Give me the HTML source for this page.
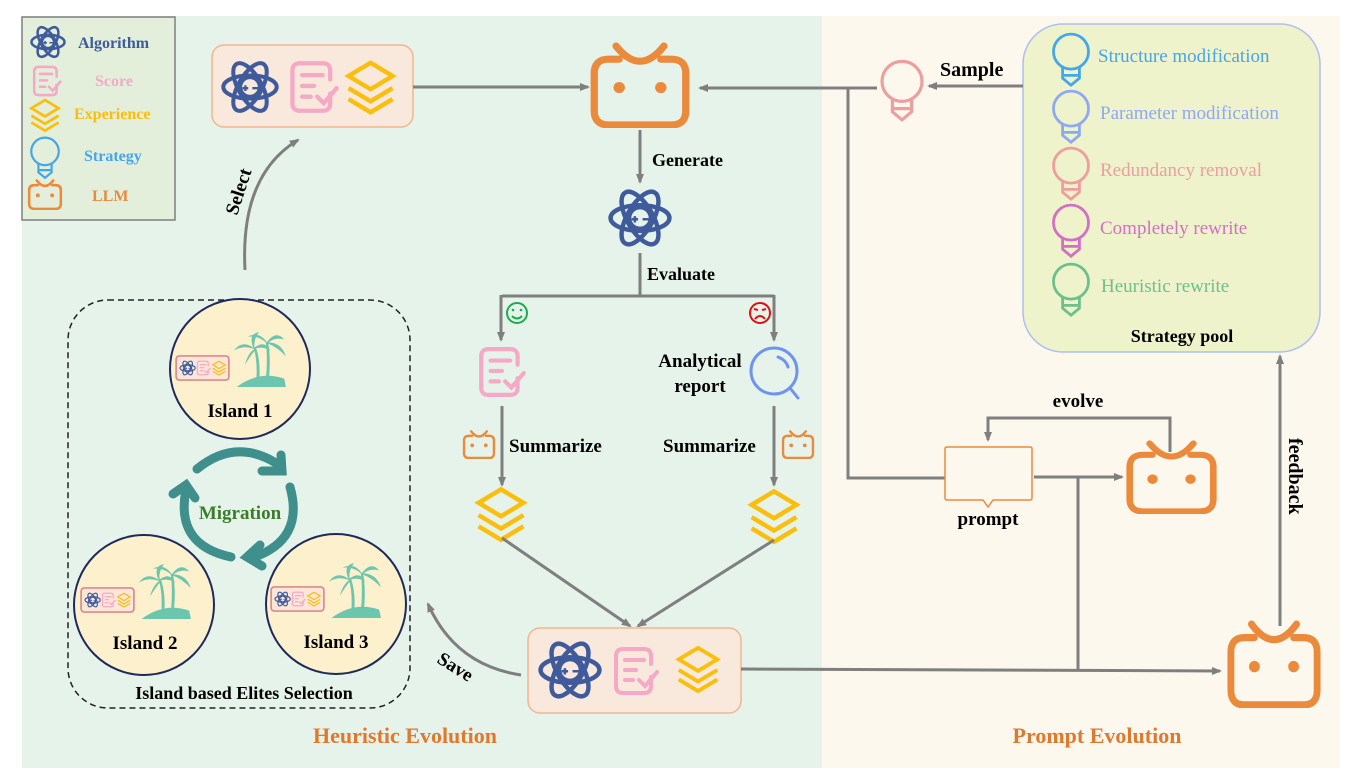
<!DOCTYPE html>
<html><head><meta charset="utf-8"><style>
html,body{margin:0;padding:0;background:#fff;}
svg{display:block;}
text{font-family:"Liberation Serif","DejaVu Serif",serif;}
.b{font-weight:bold;}
</style></head><body>
<svg width="1359" height="781" viewBox="0 0 1359 781" xmlns="http://www.w3.org/2000/svg" font-family="Liberation Serif, serif">
<defs>
<marker id="ar" markerWidth="10" markerHeight="10" refX="8" refY="5" orient="auto" markerUnits="userSpaceOnUse"><path d="M0,1 L10,5 L0,9 Z" fill="#7f7f7f"/></marker>
<symbol id="llm" viewBox="0 0 100 85" preserveAspectRatio="none"><g fill="none" stroke="#ec8a3c" stroke-width="7" stroke-linecap="round"><path d="M30 17 H20 Q6 17 6 31 V68 Q6 82 20 82 H80 Q94 82 94 68 V31 Q94 17 80 17 H70"/><path d="M27 4 Q50 34 73 4"/></g><circle cx="30" cy="45" r="5.5" fill="#ec8a3c"/><circle cx="70" cy="45" r="5.5" fill="#ec8a3c"/></symbol>
<symbol id="atom" viewBox="0 0 100 100"><g fill="none" stroke="#3f5b9c" stroke-width="7"><ellipse cx="50" cy="50" rx="46" ry="20"/><ellipse cx="50" cy="50" rx="46" ry="20" transform="rotate(60 50 50)"/><ellipse cx="50" cy="50" rx="46" ry="20" transform="rotate(-60 50 50)"/><circle cx="50" cy="50" r="17"/></g><path d="M37 52h10M42 47v10M54 52h10" stroke="#3f5b9c" stroke-width="4"/></symbol>
<symbol id="score" viewBox="0 0 100 100"><g fill="none" stroke="#f5a9c6" stroke-width="8" stroke-linecap="round"><path d="M80 62 V80 Q80 94 66 94 H24 Q10 94 10 80 V20 Q10 6 24 6 H66 Q80 6 80 20 V36"/><path d="M28 28h38M28 48h22M28 68h16"/><path d="M56 68 L68 80 L92 52"/></g></symbol>
<symbol id="exp" viewBox="0 0 100 100"><g fill="none" stroke="#fbbe0c" stroke-width="8"><path d="M50 6 L90 30 L50 54 L10 30 Z"/><path d="M10 52 L50 76 L90 52"/><path d="M10 72 L50 96 L90 72"/></g></symbol>
<symbol id="bulb" viewBox="0 0 60 80"><g fill="none" stroke="currentColor" stroke-width="4"><circle cx="30" cy="28" r="25"/><path d="M18 50 V66 L30 76 L42 66 V50 M18 62 H42"/></g></symbol>
<symbol id="trio" viewBox="0 0 100 50"><rect x="2" y="3" width="96" height="44" rx="6" fill="#fbe6d9" stroke="#d98a8a" stroke-width="3"/><use href="#atom" x="8" y="9" width="30" height="32"/><use href="#score" x="38" y="10" width="28" height="30"/><use href="#exp" x="66" y="9" width="28" height="32"/></symbol>
<symbol id="palm" viewBox="0 0 100 100"><g fill="#6cc6ad"><path d="M10 100 Q50 70 95 85 L98 100Z"/><path d="M45 95 Q48 50 40 30 L44 28 Q54 55 50 95Z"/><path d="M62 92 Q66 45 62 20 L66 19 Q72 50 67 92Z"/><path d="M40 30 Q20 15 5 35 Q22 25 40 32Z"/><path d="M40 30 Q30 5 50 2 Q40 15 42 30Z"/><path d="M42 30 Q60 15 70 35 Q56 26 42 32Z"/><path d="M64 20 Q50 0 30 10 Q50 8 64 22Z"/><path d="M64 20 Q80 -2 95 15 Q78 10 65 22Z"/><path d="M65 20 Q90 20 98 45 Q82 28 65 22Z"/><path d="M42 32 Q30 40 25 60 Q36 42 44 33Z"/></g></symbol>
</defs>

<rect x="22" y="16" width="800" height="752" fill="#e6f3ea"/>
<rect x="822" y="16" width="518" height="752" fill="#fdf8ee"/>

<!-- legend -->
<rect x="22" y="17" width="153" height="203" fill="#e3efdb" stroke="#7f7f7f" stroke-width="1.5"/>
<use href="#atom" x="30" y="22" width="36" height="40"/>
<text x="78" y="48" class="b" fill="#3f5b9c" font-size="16">Algorithm</text>
<use href="#score" x="31" y="64" width="32" height="34"/>
<text x="95" y="86" class="b" fill="#f5a9c6" font-size="16">Score</text>
<use href="#exp" x="28" y="97" width="34" height="36"/>
<text x="74" y="119" class="b" fill="#fbbe0c" font-size="16">Experience</text>
<use href="#bulb" x="28" y="136" width="34" height="44" style="color:#45a6e8"/>
<text x="84" y="161" class="b" fill="#45a6e8" font-size="16">Strategy</text>
<use href="#llm" x="27" y="179" width="36" height="31"/>
<text x="92" y="201" class="b" fill="#ec8a3c" font-size="16">LLM</text>

<!-- top box -->
<rect x="212" y="45" width="201" height="82" rx="12" fill="#f9e9dc" stroke="#f0b78e" stroke-width="1.5"/>
<use href="#atom" x="221" y="57" width="58" height="60"/>
<use href="#score" x="287" y="58" width="54" height="58"/>
<use href="#exp" x="343" y="57" width="55" height="60"/>
<line x1="413" y1="87" x2="588" y2="87" stroke="#7f7f7f" stroke-width="3" marker-end="url(#ar)"/>

<use href="#llm" x="588" y="42" width="104" height="86"/>
<line x1="640" y1="130" x2="640" y2="182" stroke="#7f7f7f" stroke-width="3" marker-end="url(#ar)"/>
<text x="652" y="166" class="b" font-size="18">Generate</text>
<use href="#atom" x="608" y="186" width="64" height="64"/>
<line x1="640" y1="253" x2="640" y2="296" stroke="#7f7f7f" stroke-width="3"/>
<text x="647" y="280" class="b" font-size="18">Evaluate</text>
<path d="M502 296 H774" stroke="#7f7f7f" stroke-width="3" fill="none"/>
<line x1="501" y1="295" x2="501" y2="340" stroke="#7f7f7f" stroke-width="3" marker-end="url(#ar)"/>
<line x1="774" y1="295" x2="774" y2="340" stroke="#7f7f7f" stroke-width="3" marker-end="url(#ar)"/>
<g fill="none" stroke="#1aae4a" stroke-width="2"><circle cx="517" cy="313" r="10"/><path d="M512 316 Q517 321 522 316"/></g>
<circle cx="513" cy="310" r="1.3" fill="#1aae4a"/><circle cx="521" cy="310" r="1.3" fill="#1aae4a"/>
<g fill="none" stroke="#e01010" stroke-width="2"><circle cx="760" cy="313" r="10"/><path d="M755 319 Q760 313 765 319M754 309l4 1M766 309l-4 1"/></g>

<use href="#score" x="476" y="344" width="52" height="56"/>
<text x="700" y="367" class="b" font-size="19" text-anchor="middle">Analytical</text>
<text x="700" y="392" class="b" font-size="19" text-anchor="middle">report</text>
<g fill="none" stroke="#6f94f0" stroke-width="3"><circle cx="774" cy="371" r="23"/><path d="M790 388 L798 398" stroke-linecap="round"/><path d="M778 357 Q786 360 788 367" stroke-linecap="round"/></g>

<line x1="502" y1="406" x2="502" y2="485" stroke="#7f7f7f" stroke-width="3" marker-end="url(#ar)"/>
<line x1="774" y1="406" x2="774" y2="485" stroke="#7f7f7f" stroke-width="3" marker-end="url(#ar)"/>
<use href="#llm" x="462" y="430" width="34" height="29"/>
<use href="#llm" x="781" y="430" width="34" height="29"/>
<text x="509" y="452" class="b" font-size="19">Summarize</text>
<text x="663" y="452" class="b" font-size="19">Summarize</text>
<use href="#exp" x="473" y="485" width="56" height="58"/>
<use href="#exp" x="746" y="487" width="56" height="58"/>
<line x1="502" y1="538" x2="630" y2="626" stroke="#7f7f7f" stroke-width="3" marker-end="url(#ar)"/>
<line x1="774" y1="540" x2="638" y2="626" stroke="#7f7f7f" stroke-width="3" marker-end="url(#ar)"/>

<rect x="528" y="628" width="213" height="85" rx="12" fill="#f9e9dc" stroke="#f0b78e" stroke-width="1.5"/>
<use href="#atom" x="538" y="638" width="64" height="64"/>
<use href="#score" x="611" y="645" width="50" height="52"/>
<use href="#exp" x="674" y="641" width="48" height="56"/>
<line x1="741" y1="669" x2="1220" y2="671" stroke="#7f7f7f" stroke-width="3" marker-end="url(#ar)"/>
<line x1="1078" y1="477" x2="1078" y2="670" stroke="#7f7f7f" stroke-width="3"/>

<path d="M521 675 Q455 665 428 604" fill="none" stroke="#7f7f7f" stroke-width="3" marker-end="url(#ar)"/>
<text x="0" y="0" class="b" font-size="19" transform="translate(436 662) rotate(32)">Save</text>

<path d="M245 270 Q240 175 298 140" fill="none" stroke="#7f7f7f" stroke-width="3" marker-end="url(#ar)"/>
<text x="0" y="0" class="b" font-size="19" transform="translate(237 216) rotate(-72)">Select</text>

<rect x="68" y="300" width="342" height="408" rx="40" fill="none" stroke="#222" stroke-width="1.5" stroke-dasharray="6 4"/>
<g fill="#fdf0cd" stroke="#1f2a5a" stroke-width="2">
<circle cx="240" cy="369" r="70"/><circle cx="144" cy="605" r="70"/><circle cx="336" cy="604" r="70"/>
</g>
<use href="#trio" x="175" y="354" width="55" height="28"/>
<use href="#palm" x="231" y="328" width="56" height="62"/>
<text x="240" y="417" class="b" font-size="19" text-anchor="middle">Island 1</text>
<use href="#trio" x="80" y="586" width="55" height="28"/>
<use href="#palm" x="136" y="560" width="56" height="62"/>
<text x="145" y="649" class="b" font-size="19" text-anchor="middle">Island 2</text>
<use href="#trio" x="270" y="585" width="55" height="28"/>
<use href="#palm" x="326" y="559" width="56" height="62"/>
<text x="336" y="648" class="b" font-size="19" text-anchor="middle">Island 3</text>
<g fill="none" stroke="#3f8f8c" stroke-width="9" stroke-linecap="round">
<path d="M197 469 Q235 438 276 463"/>
<path d="M262 471 L282 471 L281 455"/>
<path d="M290 487 Q305 540 252 558"/>
<path d="M260 545 L247 557 L262 566"/>
<path d="M231 557 Q175 545 186 490"/>
<path d="M173 494 L186 485 L195 498"/>
</g>
<text x="240" y="519" class="b" fill="#3a7d2a" font-size="19" text-anchor="middle">Migration</text>
<text x="244" y="699" class="b" font-size="18" text-anchor="middle">Island based Elites Selection</text>

<text x="405" y="743" class="b" fill="#e0792e" font-size="22" text-anchor="middle">Heuristic Evolution</text>
<text x="1097" y="743" class="b" fill="#e0792e" font-size="22" text-anchor="middle">Prompt Evolution</text>

<rect x="1023" y="24" width="297" height="328" rx="40" fill="#eef3cc" stroke="#aebff0" stroke-width="1.5"/>
<use href="#bulb" x="1050" y="32" width="42" height="56" style="color:#45a6e8"/>
<text x="1098" y="62" font-size="19" fill="#45a6e8">Structure modification</text>
<use href="#bulb" x="1050" y="89" width="42" height="56" style="color:#8fa8f2"/>
<text x="1100" y="119" font-size="19" fill="#8fa8f2">Parameter modification</text>
<use href="#bulb" x="1050" y="146" width="42" height="56" style="color:#ee9e9e"/>
<text x="1100" y="176" font-size="19" fill="#ee9e9e">Redundancy removal</text>
<use href="#bulb" x="1050" y="203" width="42" height="56" style="color:#d36fc4"/>
<text x="1100" y="234" font-size="19" fill="#d36fc4">Completely rewrite</text>
<use href="#bulb" x="1050" y="262" width="42" height="56" style="color:#6cc08c"/>
<text x="1101" y="292" font-size="19" fill="#6cc08c">Heuristic rewrite</text>
<text x="1182" y="342" class="b" font-size="18" text-anchor="middle">Strategy pool</text>

<line x1="1023" y1="86" x2="929" y2="86" stroke="#7f7f7f" stroke-width="3" marker-end="url(#ar)"/>
<text x="940" y="76" class="b" font-size="20">Sample</text>
<use href="#bulb" x="878" y="59" width="48" height="64" style="color:#ee9e9e"/>
<line x1="877" y1="88" x2="700" y2="88" stroke="#7f7f7f" stroke-width="3" marker-end="url(#ar)"/>
<path d="M848 88 V478 H945" fill="none" stroke="#7f7f7f" stroke-width="3"/>

<path d="M947 447 H1030 Q1032 447 1032 449 V498 Q1032 500 1030 500 H993 L988 507 L983 500 H947 Q945 500 945 498 V449 Q945 447 947 447Z" fill="#fdf8ee" stroke="#ec8a3c" stroke-width="1.5"/>
<text x="988" y="525" class="b" font-size="19" text-anchor="middle">prompt</text>
<path d="M1170 452 V418 H988 V440" fill="none" stroke="#7f7f7f" stroke-width="3" marker-end="url(#ar)"/>
<text x="1078" y="407" class="b" font-size="19" text-anchor="middle">evolve</text>
<line x1="1034" y1="477" x2="1122" y2="477" stroke="#7f7f7f" stroke-width="3" marker-end="url(#ar)"/>
<use href="#llm" x="1124" y="440" width="95" height="74"/>

<use href="#llm" x="1225" y="620" width="98" height="88"/>
<line x1="1280" y1="626" x2="1280" y2="356" stroke="#7f7f7f" stroke-width="3" marker-end="url(#ar)"/>
<text x="0" y="0" class="b" font-size="20" transform="translate(1289 438) rotate(90)">feedback</text>
</svg>
</body></html>
